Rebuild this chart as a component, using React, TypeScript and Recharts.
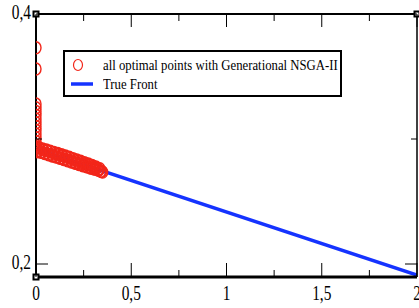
import React from "react";
import { ComposedChart, Scatter, Line, XAxis, YAxis, ReferenceDot } from "recharts";

const xTicks = [0, 0.25, 0.5, 0.75, 1, 1.25, 1.5, 1.75, 2];
const xMajor = [0, 0.5, 1, 1.5, 2];
const yTicks = [0.2, 0.3, 0.4];
const yMajor = [0.2, 0.4];
const fmt = (v: number) => String(v).replace(".", ",");

const verticalCluster = [0.373, 0.356, 0.328, 0.325, 0.322, 0.319, 0.316, 0.313, 0.31, 0.307, 0.304, 0.301, 0.298, 0.295, 0.293];
const bandX = [0, 0.01, 0.02, 0.03, 0.04, 0.05, 0.06, 0.07, 0.08, 0.09, 0.1, 0.11, 0.12, 0.13, 0.14, 0.15, 0.16, 0.17, 0.18, 0.19, 0.2, 0.21, 0.22, 0.23, 0.24, 0.25, 0.26, 0.27, 0.28, 0.29, 0.3, 0.31, 0.32, 0.33, 0.34, 0.35];
const bandY = [0.2935, 0.2908, 0.2925, 0.2895, 0.2912, 0.2885, 0.2905, 0.2875, 0.2895, 0.2866, 0.2884, 0.2857, 0.2876, 0.2848, 0.2866, 0.2838, 0.2855, 0.2828, 0.2845, 0.2818, 0.2835, 0.2808, 0.2822, 0.2798, 0.2812, 0.2788, 0.2802, 0.2778, 0.2792, 0.2768, 0.278, 0.276, 0.2768, 0.275, 0.2742, 0.2735];
const bandX2 = [0.005, 0.015, 0.025, 0.035, 0.045, 0.055, 0.065, 0.075, 0.085, 0.095, 0.105, 0.115, 0.125, 0.135, 0.145, 0.155, 0.165, 0.175, 0.185, 0.195, 0.205, 0.215, 0.225, 0.235, 0.245, 0.255, 0.265, 0.275, 0.285, 0.295, 0.305, 0.315, 0.325, 0.335, 0.345];
const bandY2 = [0.2898, 0.293, 0.2893, 0.292, 0.2884, 0.2912, 0.2874, 0.2903, 0.2864, 0.2893, 0.2855, 0.2884, 0.2845, 0.2874, 0.2835, 0.2864, 0.2825, 0.2854, 0.2815, 0.2843, 0.2806, 0.2832, 0.2796, 0.2822, 0.2786, 0.2811, 0.2777, 0.28, 0.2768, 0.2788, 0.276, 0.2776, 0.2752, 0.2762, 0.274];

const trueFrontX = [0, 2];
const trueFrontY = [0.292, 0.1912];

const legendLabels = ["all optimal points with Generational NSGA-II", "True Front"];

const points = [
  ...verticalCluster.map((y) => ({ x: 0, y })),
  ...bandX.map((x, i) => ({ x, y: bandY[i] })),
  ...bandX2.map((x, i) => ({ x, y: bandY2[i] })),
];
const front = trueFrontX.map((x, i) => ({ x, y: trueFrontY[i] }));

const RED = "#f2261a";
const BLUE = "#1533ff";
const FONT = "Liberation Serif, Times New Roman, serif";

const Ring = (props: any) => {
  const { cx, cy } = props;
  if (cx == null || cy == null) return null;
  return <ellipse cx={cx} cy={cy} rx={5} ry={6} fill="none" stroke={RED} strokeWidth={1.4} />;
};

const BottomTick = (props: any) => {
  const { x, y, payload } = props;
  const major = xMajor.includes(payload.value);
  return (
    <g>
      <line x1={x} x2={x} y1={y} y2={y - (major ? 14 : 7)} stroke="#000" strokeWidth={1} />
      {major && (
        <text transform={`translate(${x},${y + 23}) scale(0.77,1)`} textAnchor="middle" fontSize={20} fontFamily={FONT} fill="#000">
          {fmt(payload.value)}
        </text>
      )}
    </g>
  );
};

const TopTick = (props: any) => {
  const { x, y, payload } = props;
  const major = xMajor.includes(payload.value);
  return <line x1={x} x2={x} y1={y} y2={y + (major ? 13 : 7)} stroke="#000" strokeWidth={1} />;
};

const LeftTick = (props: any) => {
  const { x, y, payload } = props;
  const major = yMajor.includes(payload.value);
  return (
    <g>
      <line x1={x} x2={x + (major ? 12 : 6)} y1={y} y2={y} stroke="#000" strokeWidth={1} />
      {major && (
        <text transform={`translate(${x - 5},${y + 5}) scale(0.77,1)`} textAnchor="end" fontSize={20} fontFamily={FONT} fill="#000">
          {fmt(payload.value)}
        </text>
      )}
    </g>
  );
};

const RightTick = (props: any) => {
  const { x, y, payload } = props;
  const major = yMajor.includes(payload.value);
  return <line x1={x} x2={x - (major ? 12 : 6)} y1={y} y2={y} stroke="#000" strokeWidth={1} />;
};

const Corner = (props: any) => {
  const { cx, cy } = props;
  if (cx == null || cy == null) return null;
  return <rect x={cx - 2.5} y={cy - 2.5} width={5} height={5} fill="#fff" stroke="#000" strokeWidth={2} />;
};

const LegendBox = () => (
  <div
    style={{
      position: "absolute",
      left: 63,
      top: 50,
      width: 279,
      height: 47,
      boxSizing: "border-box",
      border: "2px solid #000",
      background: "#fff",
      fontFamily: FONT,
      fontSize: 15,
      color: "#000",
    }}
  >
    <svg width={40} height={43} style={{ position: "absolute", left: 0, top: 0 }}>
      <ellipse cx={13} cy={13} rx={4.5} ry={5.5} fill="none" stroke={RED} strokeWidth={1.2} />
      <line x1={6} x2={28} y1={32} y2={32} stroke={BLUE} strokeWidth={3.5} />
    </svg>
    <div style={{ position: "absolute", left: 38, top: 4, whiteSpace: "nowrap", transform: "scaleX(0.85)", transformOrigin: "left top", lineHeight: "18px" }}>
      {legendLabels[0]}
    </div>
    <div style={{ position: "absolute", left: 38, top: 23, whiteSpace: "nowrap", transform: "scaleX(0.85)", transformOrigin: "left top", lineHeight: "18px" }}>
      {legendLabels[1]}
    </div>
  </div>
);

export default function App() {
  return (
    <div style={{ position: "fixed", left: 0, top: 0, width: 419, height: 308, background: "#fff" }}>
      <ComposedChart width={419} height={308} margin={{ top: 13, right: 1, bottom: 0, left: 0 }}>
        <XAxis
          xAxisId="b"
          type="number"
          dataKey="x"
          domain={[0, 2]}
          ticks={xTicks}
          orientation="bottom"
          height={31}
          axisLine={{ stroke: "#000", strokeWidth: 3 }}
          tickLine={false}
          tickSize={0}
          tickMargin={0}
          tick={<BottomTick />}
          interval={0}
          allowDataOverflow
        />
        <XAxis
          xAxisId="t"
          type="number"
          dataKey="x"
          domain={[0, 2]}
          ticks={xTicks}
          orientation="top"
          height={1}
          axisLine={{ stroke: "#000", strokeWidth: 2 }}
          tickLine={false}
          tickSize={0}
          tickMargin={0}
          tick={<TopTick />}
          interval={0}
          allowDataOverflow
        />
        <YAxis
          yAxisId="l"
          type="number"
          dataKey="y"
          domain={[0.1896, 0.4]}
          ticks={yTicks}
          width={36}
          axisLine={{ stroke: "#000", strokeWidth: 2 }}
          tickLine={false}
          tickSize={0}
          tickMargin={0}
          tick={<LeftTick />}
          interval={0}
          allowDataOverflow
        />
        <YAxis
          yAxisId="r"
          type="number"
          dataKey="y"
          orientation="right"
          domain={[0.1896, 0.4]}
          ticks={yTicks}
          width={1}
          axisLine={{ stroke: "#000", strokeWidth: 1.5 }}
          tickLine={false}
          tickSize={0}
          tickMargin={0}
          tick={<RightTick />}
          interval={0}
          allowDataOverflow
        />
        <Scatter xAxisId="b" yAxisId="l" data={points} dataKey="y" shape={<Ring />} isAnimationActive={false} />
        <Line xAxisId="b" yAxisId="l" data={front} dataKey="y" type="linear" stroke={BLUE} strokeWidth={3.5} dot={false} activeDot={false} isAnimationActive={false} />
        <Scatter xAxisId="t" yAxisId="r" data={front} dataKey="y" shape={() => null} isAnimationActive={false} />
        <ReferenceDot xAxisId="b" yAxisId="l" x={0} y={0.4} r={3} shape={<Corner />} ifOverflow="visible" />
        <ReferenceDot xAxisId="b" yAxisId="l" x={0} y={0.1896} r={3} shape={<Corner />} ifOverflow="visible" />
        <ReferenceDot xAxisId="b" yAxisId="l" x={2} y={0.4} r={3} shape={<Corner />} ifOverflow="visible" />
      </ComposedChart>
      <LegendBox />
    </div>
  );
}
